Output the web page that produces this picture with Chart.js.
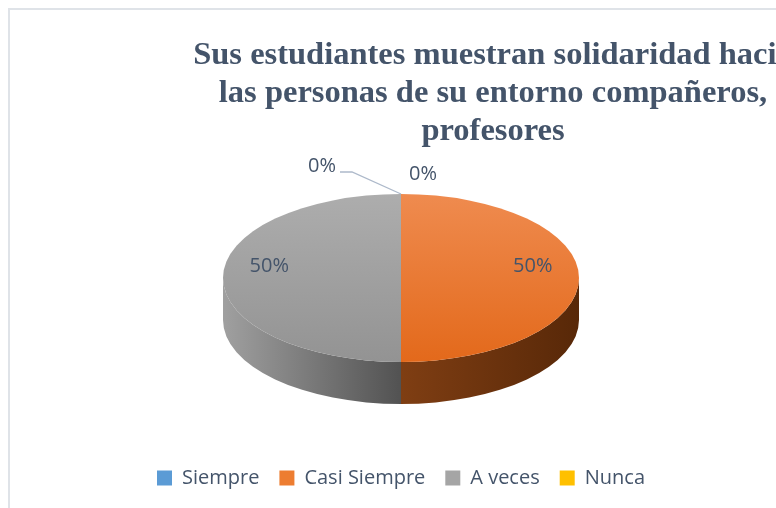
<!DOCTYPE html>
<html lang="es">
<head>
<meta charset="utf-8">
<title>Sus estudiantes muestran solidaridad</title>
<script src="https://cdn.jsdelivr.net/npm/chart.js@4.4.1/dist/chart.umd.min.js"></script>
<style>
    html, body { margin: 0; padding: 0; background: #fff; overflow: hidden; }
    #marco { position: absolute; left: 8px; top: 8px; width: 900px; height: 600px;
             border-top: 2px solid #dfe3e8; border-left: 2px solid #dfe3e8; }
    #zona { position: absolute; left: 0; top: 0; width: 776px; height: 508px; }
</style>
</head>
<body>
<div id="marco"></div>
<div id="zona"><canvas id="myChart" width="776" height="508"></canvas></div>
<script>
// Datos del gráfico
const categorias = ['Siempre', 'Casi Siempre', 'A veces', 'Nunca'];
const porcentajes = [0, 50, 50, 0];
const titulo = ['Sus estudiantes muestran solidaridad hacia', 'las personas de su entorno compañeros,', 'profesores'];

// Colores: cara superior (arriba -> abajo) y lateral (izquierda -> derecha)
const coloresArriba = [['#6fa6db', '#4a89c8'], ['#ef8b4f', '#e3691b'], ['#adadad', '#939393'], ['#ffca28', '#f0b400']];
const coloresLado = [['#3a6a9a', '#24486e'], ['#7f3e13', '#582808'], ['#a0a0a0', '#525252'], ['#a07800', '#6e5200']];
const coloresLeyenda = ['#5b9bd5', '#ed7d31', '#a5a5a5', '#ffc000'];

const colorTexto = '#44546a';

// Plugin para dibujar el pastel en 3D (lateral + cara aplastada)
const pastel3d = {
    id: 'pastel3d',
    beforeDatasetsDraw(chart, args, opts) {
        const ctx = chart.ctx;
        const arcs = chart.getDatasetMeta(0).data;
        const cx = arcs[0].x, cy = arcs[0].y, r = arcs[0].outerRadius;
        const ry = r * opts.inclinacion;
        ctx.save();

        // Paredes laterales visibles (mitad delantera)
        arcs.forEach((arc, i) => {
            const a0 = Math.max(arc.startAngle, 0);
            const a1 = Math.min(arc.endAngle, Math.PI);
            if (a1 <= a0) return;
            const xa = cx + r * Math.cos(a0);
            const xb = cx + r * Math.cos(a1);
            const grad = ctx.createLinearGradient(Math.min(xa, xb), 0, Math.max(xa, xb), 0);
            grad.addColorStop(0, coloresLado[i][0]);
            grad.addColorStop(1, coloresLado[i][1]);
            ctx.beginPath();
            ctx.ellipse(cx, cy, r, ry, 0, a0, a1);
            ctx.lineTo(cx + r * Math.cos(a1), cy + ry * Math.sin(a1) + opts.profundidad);
            ctx.ellipse(cx, cy + opts.profundidad, r, ry, 0, a1, a0, true);
            ctx.closePath();
            ctx.fillStyle = grad;
            ctx.fill();
        });

        // Aplastar la cara superior
        ctx.translate(cx, cy);
        ctx.scale(1, opts.inclinacion);
        ctx.translate(-cx, -cy);
    },
    afterDatasetsDraw(chart) {
        chart.ctx.restore();
    }
};

// Título y etiquetas de porcentaje
const textos = {
    id: 'textos',
    afterDraw(chart, args, opts) {
        const ctx = chart.ctx;
        ctx.save();

        // Título
        ctx.fillStyle = colorTexto;
        ctx.font = 'bold 32.5px "Liberation Serif"';
        ctx.textAlign = 'center';
        ctx.textBaseline = 'alphabetic';
        titulo.forEach((linea, i) => {
            ctx.fillText(linea, opts.tituloX, opts.tituloY + i * opts.tituloInterlinea);
        });

        // Etiquetas
        const arcs = chart.getDatasetMeta(0).data;
        const cx = arcs[0].x, cy = arcs[0].y, r = arcs[0].outerRadius;
        const ry = r * opts.inclinacion;
        const arriba = cy - ry;
        ctx.font = '20px "Open Sans"';
        ctx.textBaseline = 'middle';
        let ceros = 0;
        arcs.forEach((arc, i) => {
            const texto = porcentajes[i] + '%';
            if (porcentajes[i] > 0) {
                const medio = (arc.startAngle + arc.endAngle) / 2;
                const x = cx + r * 0.74 * Math.cos(medio);
                const y = cy + ry * 0.74 * Math.sin(medio) - opts.elevacion;
                ctx.fillText(texto, x, y);
            } else {
                const pos = opts.posCeros[ceros++];
                const x = cx + pos[0], y = arriba + pos[1];
                if (pos[2]) {
                    ctx.strokeStyle = '#adb9ca';
                    ctx.lineWidth = 1.3;
                    ctx.beginPath();
                    ctx.moveTo(cx, arriba);
                    ctx.lineTo(x + 30, y + 6);
                    ctx.lineTo(x + 18, y + 6);
                    ctx.stroke();
                }
                ctx.fillText(texto, x, y);
            }
        });
        ctx.restore();
    }
};

let ctx = document.getElementById('myChart').getContext('2d');
let myChart = new Chart(ctx, {
    type: 'pie',
    data: {
        labels: categorias,
        datasets: [{
            data: porcentajes,
            radius: 178,
            clip: false,
            borderWidth: 0,
            backgroundColor: function(c) {
                const area = c.chart.chartArea;
                if (!area) return coloresLeyenda[c.dataIndex];
                const cy = (area.top + area.bottom) / 2;
                const g = c.chart.ctx.createLinearGradient(0, cy - 178, 0, cy + 178);
                g.addColorStop(0, coloresArriba[c.dataIndex][0]);
                g.addColorStop(1, coloresArriba[c.dataIndex][1]);
                return g;
            }
        }]
    },
    options: {
        responsive: false,
        animation: false,
        events: [],
        layout: {
            padding: { left: 26, right: 0, top: 108, bottom: 10 }
        },
        plugins: {
            tooltip: { enabled: false },
            legend: {
                position: 'bottom',
                labels: {
                    boxWidth: 15,
                    boxHeight: 15,
                    padding: 20,
                    color: colorTexto,
                    font: { family: '"Open Sans"', size: 20 },
                    generateLabels: function(chart) {
                        return categorias.map((cat, i) => ({
                            text: cat,
                            fillStyle: coloresLeyenda[i],
                            strokeStyle: coloresLeyenda[i],
                            lineWidth: 0,
                            fontColor: colorTexto,
                            hidden: false,
                            index: i
                        }));
                    }
                }
            },
            pastel3d: { inclinacion: 0.472, profundidad: 42 },
            textos: {
                inclinacion: 0.472,
                elevacion: 12,
                tituloX: 493,
                tituloY: 64,
                tituloInterlinea: 38,
                posCeros: [[-79, -28, true], [22, -20, false]]
            }
        }
    },
    plugins: [pastel3d, textos]
});
</script>
</body>
</html>
